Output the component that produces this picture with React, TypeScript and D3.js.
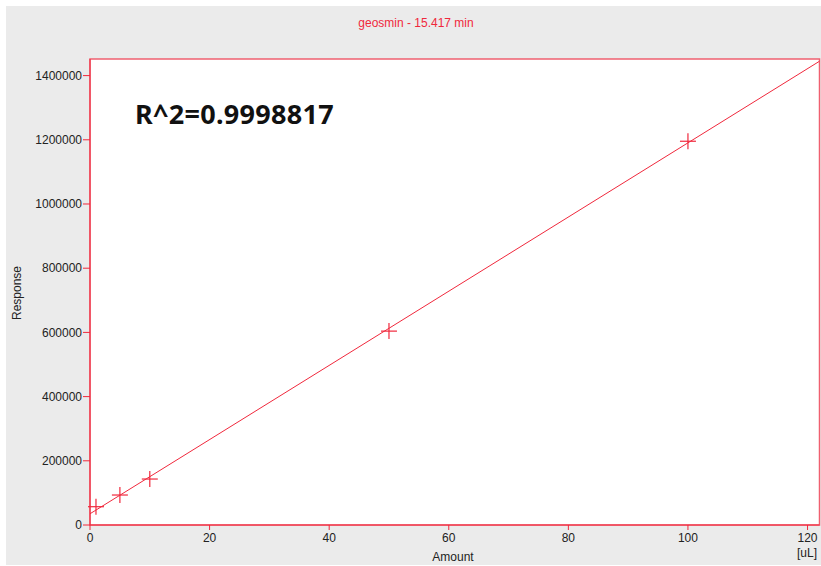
import React from "react";
import * as d3 from "d3";

const amounts = [1, 5, 10, 50, 100];
const responses = [57000, 93400, 143200, 604000, 1195500];
const xTicks = [0, 20, 40, 60, 80, 100, 120];
const yTicks = [0, 200000, 400000, 600000, 800000, 1000000, 1200000, 1400000];
const title = "geosmin - 15.417 min";
const r2Label = "R^2=0.9998817";

const W = 821;
const H = 566;
const plot = { left: 90, top: 59, right: 819.5, bottom: 525 };
const RED = "#f0283c";
const FONT = "'Liberation Sans', Arial, sans-serif";

export default function App() {
  const x = d3.scaleLinear().domain([0, 122]).range([plot.left, plot.right]);
  const y = d3.scaleLinear().domain([0, 1451700]).range([plot.bottom, plot.top]);

  // least-squares fit from the data
  const mx = d3.mean(amounts)!;
  const my = d3.mean(responses)!;
  const sxy = d3.sum(amounts, (a, i) => (a - mx) * (responses[i] - my));
  const sxx = d3.sum(amounts, (a) => (a - mx) ** 2);
  const slope = sxy / sxx;
  const intercept = my - slope * mx;
  const lineGen = d3
    .line<number>()
    .x((d) => x(d))
    .y((d) => y(intercept + slope * d));
  const xEnd = Math.min(122, (1451700 - intercept) / slope);

  return (
    <svg
      width={W}
      height={H}
      style={{ position: "absolute", left: 0, top: 0, background: "#fff" }}
    >
      <rect x={6} y={6} width={W - 6} height={559} fill="#ebebeb" />
      <rect
        x={plot.left}
        y={plot.top}
        width={plot.right - plot.left}
        height={plot.bottom - plot.top}
        fill="#fff"
        stroke="#f06070"
        strokeWidth={1.5}
      />
      <text
        x={416}
        y={27}
        textAnchor="middle"
        fontFamily={FONT}
        fontSize={12}
        fill={RED}
      >
        {title}
      </text>
      {/* regression line */}
      <path d={lineGen([0, xEnd]) || ""} fill="none" stroke={RED} strokeWidth={1} />
      {/* markers */}
      {amounts.map((a, i) => (
        <g key={i} stroke={RED} strokeWidth={1.2}>
          <line x1={x(a) - 8} x2={x(a) + 8} y1={y(responses[i])} y2={y(responses[i])} />
          <line x1={x(a)} x2={x(a)} y1={y(responses[i]) - 8} y2={y(responses[i]) + 8} />
        </g>
      ))}
      {/* y axis */}
      <line x1={plot.left} x2={plot.left} y1={plot.top} y2={plot.bottom} stroke={RED} />
      {yTicks.map((t) => (
        <g key={t}>
          <line x1={plot.left - 7} x2={plot.left} y1={y(t)} y2={y(t)} stroke={RED} />
          <text
            x={plot.left - 8}
            y={y(t)}
            dy="0.35em"
            textAnchor="end"
            fontFamily={FONT}
            fontSize={12}
            fill="#222"
          >
            {t}
          </text>
        </g>
      ))}
      {/* x axis */}
      <line x1={plot.left} x2={plot.right} y1={plot.bottom} y2={plot.bottom} stroke={RED} />
      {xTicks.map((t) => (
        <g key={t}>
          <line x1={x(t)} x2={x(t)} y1={plot.bottom} y2={plot.bottom + 5} stroke={RED} />
          <text
            x={x(t)}
            y={plot.bottom + 17}
            textAnchor="middle"
            fontFamily={FONT}
            fontSize={12}
            fill="#222"
          >
            {t}
          </text>
        </g>
      ))}
      <text x={453} y={561} textAnchor="middle" fontFamily={FONT} fontSize={12} fill="#222">
        Amount
      </text>
      <text x={817} y={557} textAnchor="end" fontFamily={FONT} fontSize={12} fill="#222">
        [uL]
      </text>
      <text
        transform={`translate(21, 293) rotate(-90)`}
        textAnchor="middle"
        fontFamily={FONT}
        fontSize={12}
        fill="#222"
      >
        Response
      </text>
      <text
        x={135}
        y={124}
        fontFamily="'Noto Sans', 'Open Sans', sans-serif"
        fontWeight="bold"
        fontSize={27}
        letterSpacing={0.3}
        fill="#111"
      >
        {r2Label}
      </text>
    </svg>
  );
}
